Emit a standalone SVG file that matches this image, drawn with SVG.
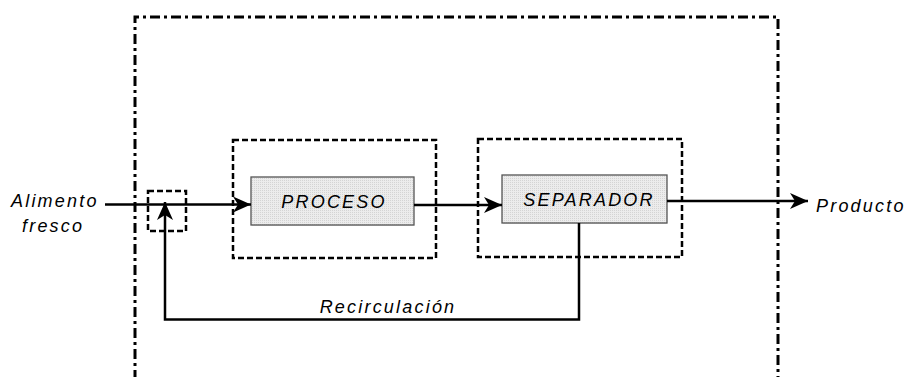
<svg xmlns="http://www.w3.org/2000/svg" width="905" height="377" viewBox="0 0 905 377">
<defs>
<marker id="ah" markerUnits="userSpaceOnUse" markerWidth="20" markerHeight="16" refX="18" refY="8" orient="auto">
<path d="M0,0 L18,8 L0,16 L5,8 Z" fill="#000"/>
</marker>
<pattern id="dots" width="2" height="2" patternUnits="userSpaceOnUse">
<rect width="2" height="2" fill="#ececec"/>
<rect width="1" height="1" fill="#d4d4d4"/>
</pattern>
</defs>
<style>
.lbl{font-family:"Liberation Sans",Arial,sans-serif;font-style:italic;font-size:18px;letter-spacing:2.2px;fill:#000}
.dash{fill:none;stroke:#000;stroke-width:2.5;stroke-dasharray:6 3}
.blk{fill:url(#dots);stroke:#555;stroke-width:1.3}
.ln{fill:none;stroke:#000;stroke-width:2.5}
</style>
<rect width="905" height="377" fill="#fff"/>
<g id="sistema">
<path d="M135,380 L135,17 L778,17 L778,380" fill="none" stroke="#000" stroke-width="3" stroke-dasharray="10 4 3 4"/>
</g>
<g id="mezclador">
<rect class="dash" x="148" y="191" width="38" height="40"/>
</g>
<g id="proceso">
<rect class="dash" x="233" y="140" width="203" height="118"/>
<rect class="blk" x="251" y="177" width="163" height="48"/>
<line x1="252" y1="225.5" x2="414" y2="225.5" stroke="#888" stroke-width="1"/>
<text class="lbl" x="334" y="208" text-anchor="middle">PROCESO</text>
</g>
<g id="separador">
<rect class="dash" x="478" y="139" width="204" height="118"/>
<rect class="blk" x="502" y="175" width="165" height="48"/>
<line x1="503" y1="223.5" x2="667" y2="223.5" stroke="#888" stroke-width="1"/>
<text class="lbl" x="589" y="206" text-anchor="middle">SEPARADOR</text>
</g>
<g id="labels">
<text class="lbl" x="11" y="207">Alimento</text>
<text class="lbl" x="22" y="232">fresco</text>
<text class="lbl" x="816" y="212">Producto</text>
<text class="lbl" x="388" y="313" text-anchor="middle">Recirculación</text>
</g>
<g id="connectors">
<line class="ln" x1="105" y1="204.5" x2="251" y2="204.5" marker-end="url(#ah)"/>
<line class="ln" x1="414" y1="205" x2="502" y2="205" marker-end="url(#ah)"/>
<line class="ln" x1="667" y1="201" x2="808" y2="201" marker-end="url(#ah)"/>
<path class="ln" d="M579,223 L579,319.5 L165,319.5 L165,202" marker-end="url(#ah)"/>
</g>
</svg>
